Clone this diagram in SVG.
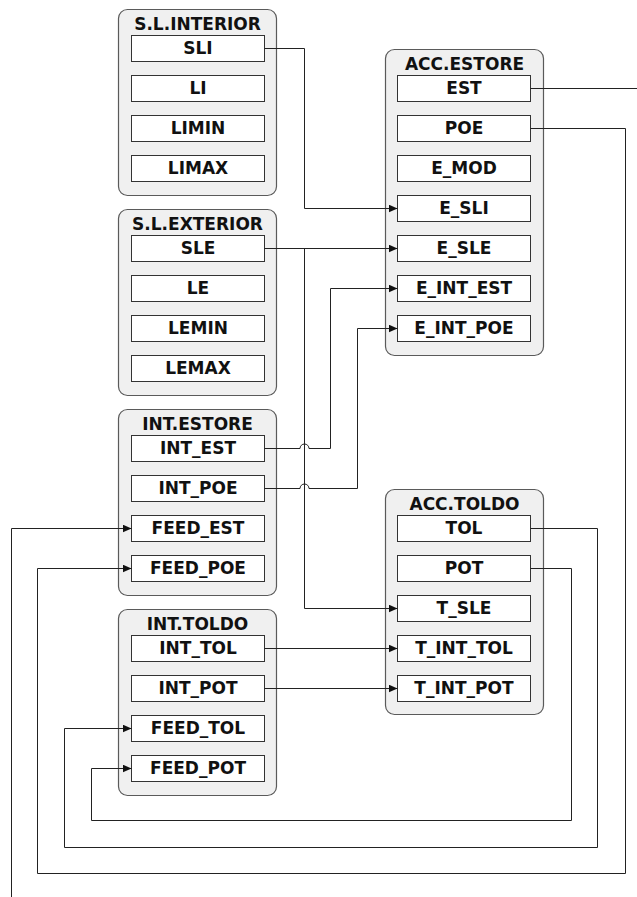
<svg xmlns="http://www.w3.org/2000/svg" width="637" height="897" viewBox="0 0 637 897">
<style>
.blk{fill:#f0f0f0;stroke:#5a5a5a;stroke-width:1.2}
.row{fill:#ffffff;stroke:#333333;stroke-width:1}
.t{font-family:"DejaVu Sans","Verdana",sans-serif;font-weight:bold;font-size:17px;fill:#111;text-anchor:middle}
.c{fill:none;stroke:#222222;stroke-width:1}
.a{marker-end:url(#arr)}
</style>
<defs>
<marker id="arr" markerUnits="userSpaceOnUse" markerWidth="10" markerHeight="9" refX="9" refY="4" orient="auto">
<path d="M0,0 L9,4 L0,8 z" fill="#111"/>
</marker>
</defs>
<rect width="637" height="897" fill="#ffffff"/>

<g id="sl-interior">
<rect class="blk" x="118.5" y="9.5" width="158" height="186" rx="9"/>
<text class="t" x="197.5" y="29.5">S.L.INTERIOR</text>
<rect class="row" x="131.5" y="35.5" width="133" height="26"/><text class="t" x="198" y="54">SLI</text>
<rect class="row" x="131.5" y="75.5" width="133" height="26"/><text class="t" x="198" y="94">LI</text>
<rect class="row" x="131.5" y="115.5" width="133" height="26"/><text class="t" x="198" y="134">LIMIN</text>
<rect class="row" x="131.5" y="155.5" width="133" height="26"/><text class="t" x="198" y="174">LIMAX</text>
</g>

<g id="sl-exterior">
<rect class="blk" x="118.5" y="209.5" width="158" height="186" rx="9"/>
<text class="t" x="197.5" y="229.5">S.L.EXTERIOR</text>
<rect class="row" x="131.5" y="235.5" width="133" height="26"/><text class="t" x="198" y="254">SLE</text>
<rect class="row" x="131.5" y="275.5" width="133" height="26"/><text class="t" x="198" y="294">LE</text>
<rect class="row" x="131.5" y="315.5" width="133" height="26"/><text class="t" x="198" y="334">LEMIN</text>
<rect class="row" x="131.5" y="355.5" width="133" height="26"/><text class="t" x="198" y="374">LEMAX</text>
</g>

<g id="int-estore">
<rect class="blk" x="118.5" y="409.5" width="158" height="186" rx="9"/>
<text class="t" x="197.5" y="429.5">INT.ESTORE</text>
<rect class="row" x="131.5" y="435.5" width="133" height="26"/><text class="t" x="198" y="454">INT_EST</text>
<rect class="row" x="131.5" y="475.5" width="133" height="26"/><text class="t" x="198" y="494">INT_POE</text>
<rect class="row" x="131.5" y="515.5" width="133" height="26"/><text class="t" x="198" y="534">FEED_EST</text>
<rect class="row" x="131.5" y="555.5" width="133" height="26"/><text class="t" x="198" y="574">FEED_POE</text>
</g>

<g id="int-toldo">
<rect class="blk" x="118.5" y="609.5" width="158" height="186" rx="9"/>
<text class="t" x="197.5" y="629.5">INT.TOLDO</text>
<rect class="row" x="131.5" y="635.5" width="133" height="26"/><text class="t" x="198" y="654">INT_TOL</text>
<rect class="row" x="131.5" y="675.5" width="133" height="26"/><text class="t" x="198" y="694">INT_POT</text>
<rect class="row" x="131.5" y="715.5" width="133" height="26"/><text class="t" x="198" y="734">FEED_TOL</text>
<rect class="row" x="131.5" y="755.5" width="133" height="26"/><text class="t" x="198" y="774">FEED_POT</text>
</g>

<g id="acc-estore">
<rect class="blk" x="385.5" y="49.5" width="158" height="306" rx="9"/>
<text class="t" x="464.5" y="69.5">ACC.ESTORE</text>
<rect class="row" x="397.5" y="75.5" width="133" height="26"/><text class="t" x="464" y="94">EST</text>
<rect class="row" x="397.5" y="115.5" width="133" height="26"/><text class="t" x="464" y="134">POE</text>
<rect class="row" x="397.5" y="155.5" width="133" height="26"/><text class="t" x="464" y="174">E_MOD</text>
<rect class="row" x="397.5" y="195.5" width="133" height="26"/><text class="t" x="464" y="214">E_SLI</text>
<rect class="row" x="397.5" y="235.5" width="133" height="26"/><text class="t" x="464" y="254">E_SLE</text>
<rect class="row" x="397.5" y="275.5" width="133" height="26"/><text class="t" x="464" y="294">E_INT_EST</text>
<rect class="row" x="397.5" y="315.5" width="133" height="26"/><text class="t" x="464" y="334">E_INT_POE</text>
</g>

<g id="acc-toldo">
<rect class="blk" x="385.5" y="489.5" width="158" height="225" rx="9"/>
<text class="t" x="464.5" y="509.5">ACC.TOLDO</text>
<rect class="row" x="397.5" y="515.5" width="133" height="26"/><text class="t" x="464" y="534">TOL</text>
<rect class="row" x="397.5" y="555.5" width="133" height="26"/><text class="t" x="464" y="574">POT</text>
<rect class="row" x="397.5" y="595.5" width="133" height="26"/><text class="t" x="464" y="614">T_SLE</text>
<rect class="row" x="397.5" y="635.5" width="133" height="26"/><text class="t" x="464" y="654">T_INT_TOL</text>
<rect class="row" x="397.5" y="675.5" width="133" height="26"/><text class="t" x="464" y="694">T_INT_POT</text>
</g>

<g id="connectors">
<path class="c a" d="M264.5,48.5 H304.5 V208.5 H397.5"/>
<path class="c a" d="M264.5,248.5 H397.5"/>
<path class="c a" d="M264.5,248.5 H304.5 V608.5 H397.5"/>
<path class="c a" d="M264.5,448.5 H300 A4.5,4.5 0 0 1 309,448.5 H330.5 V288.5 H397.5"/>
<path class="c a" d="M264.5,488.5 H300 A4.5,4.5 0 0 1 309,488.5 H357.5 V328.5 H397.5"/>
<path class="c a" d="M264.5,648.5 H397.5"/>
<path class="c a" d="M264.5,688.5 H397.5"/>
<path class="c" d="M530.5,88.5 H637"/>
<path class="c a" d="M11.5,897 V528.5 H131.5"/>
<path class="c a" d="M530.5,128.5 H625.5 V873.5 H37.5 V568.5 H131.5"/>
<path class="c a" d="M530.5,528.5 H597.5 V847.5 H64.5 V728.5 H131.5"/>
<path class="c a" d="M530.5,568.5 H571.5 V820.5 H91.5 V768.5 H131.5"/>
</g>
</svg>
